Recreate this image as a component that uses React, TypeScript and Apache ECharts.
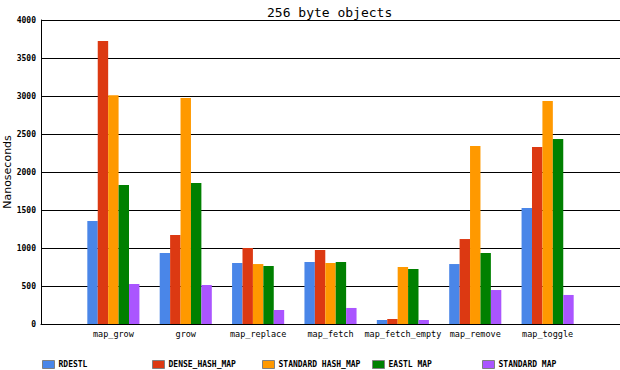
import React, { useEffect, useRef } from "react";
import * as echarts from "echarts";

const titleText = "256 byte objects";
const yAxisName = "Nanoseconds";
const categories = ["map_grow", "grow", "map_replace", "map_fetch", "map_fetch_empty", "map_remove", "map_toggle"];
const seriesNames = ["RDESTL", "DENSE_HASH_MAP", "STANDARD HASH_MAP", "EASTL MAP", "STANDARD MAP"];
const rdestl = [1355, 934, 803, 816, 53, 789, 1526];
const denseHashMap = [3724, 1171, 1000, 974, 66, 1118, 2329];
const standardHashMap = [3009, 2974, 789, 803, 750, 2342, 2934];
const eastlMap = [1829, 1855, 763, 816, 724, 934, 2434];
const standardMap = [526, 513, 184, 211, 53, 447, 382];
const yTicks = [0, 500, 1000, 1500, 2000, 2500, 3000, 3500, 4000];

const colors = ["#4a86e8", "#dc3912", "#ff9900", "#008000", "#aa55ff"];
const legendLefts = [42, 152, 262, 372, 482];
const MONO = "'DejaVu Sans Mono', 'Liberation Mono', monospace";

export default function App() {
  const ref = useRef<HTMLDivElement>(null);
  useEffect(() => {
    if (!ref.current) return;
    const chart = echarts.init(ref.current, undefined, { renderer: "svg" });
    const allSeries = [rdestl, denseHashMap, standardHashMap, eastlMap, standardMap];
    const axisData = ["", ...categories, ""];
    chart.setOption({
      animation: false,
      backgroundColor: "#ffffff",
      title: {
        text: titleText,
        left: 262,
        top: 1,
        textStyle: { fontFamily: MONO, fontSize: 13, fontWeight: "normal", color: "#000" },
      },
      legend: seriesNames.map((n, i) => ({
        data: [n],
        left: legendLefts[i],
        top: 360,
        itemWidth: 12,
        itemHeight: 8,
        itemGap: 4,
        padding: 0,
        icon: "rect",
        selectedMode: false,
        itemStyle: { borderColor: "#808080", borderWidth: 1 },
        textStyle: { fontFamily: MONO, fontSize: 8, fontWeight: "bold", color: "#000", padding: [0, 0, 0, -1] },
      })),
      grid: { left: 41, right: 0, top: 20, bottom: 46, containLabel: false, outerBoundsMode: "none" },
      xAxis: {
        type: "category",
        data: axisData,
        boundaryGap: false,
        axisLine: { lineStyle: { color: "#000", width: 1 } },
        axisTick: { show: false },
        axisLabel: { fontFamily: MONO, fontSize: 8.5, color: "#000", margin: 5, interval: 0 },
        splitLine: { show: false },
      },
      yAxis: {
        type: "value",
        min: yTicks[0],
        max: yTicks[yTicks.length - 1],
        interval: yTicks[1] - yTicks[0],
        name: yAxisName,
        nameLocation: "middle",
        nameGap: 28,
        nameMoveOverlap: false,
        nameTextStyle: { fontFamily: "'DejaVu Sans', sans-serif", fontSize: 11, color: "#000" },
        axisLine: { show: true, lineStyle: { color: "#000", width: 1 } },
        axisTick: { show: false },
        axisLabel: {
          fontFamily: MONO,
          fontSize: 8,
          fontWeight: "bold",
          color: "#000",
          margin: 5,
          formatter: (v: number) => String(v),
        },
        splitLine: { show: true, lineStyle: { color: "#000", width: 1 } },
      },
      series: seriesNames.map((n, i) => ({
        name: n,
        type: "bar",
        data: ["-", ...allSeries[i], "-"],
        itemStyle: { color: colors[i] },
        barGap: "0%",
        barCategoryGap: "28%",
      })),
    });
    return () => chart.dispose();
  }, []);
  return <div ref={ref} style={{ width: 620, height: 370, position: "absolute", left: 0, top: 0 }} />;
}
